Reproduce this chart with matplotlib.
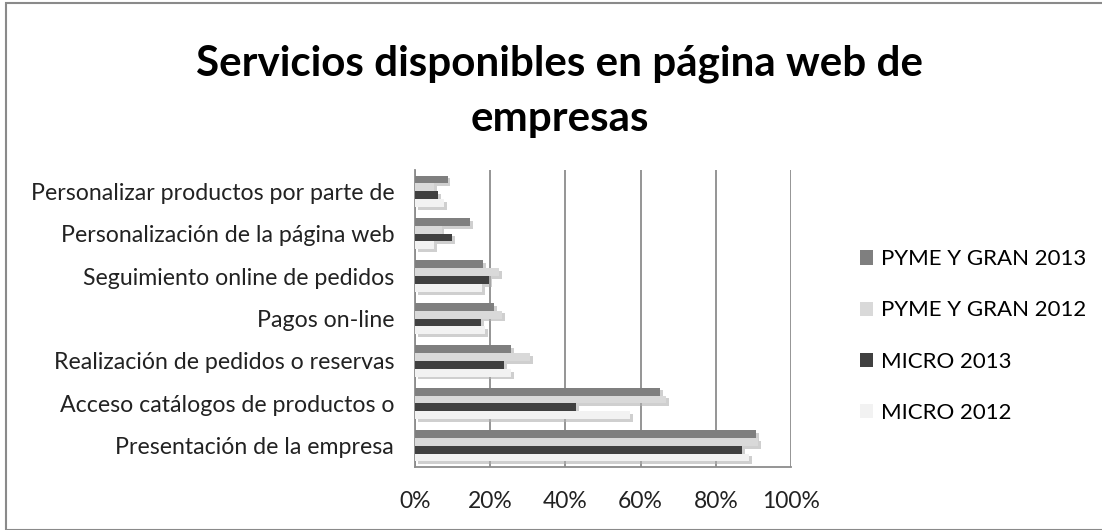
import matplotlib
matplotlib.use("Agg")
import matplotlib.pyplot as plt
import matplotlib.patheffects as pe
from matplotlib.patches import Rectangle
import numpy as np

categories = [
    "Personalizar productos por parte de",
    "Personalización de la página web",
    "Seguimiento online de pedidos",
    "Pagos on-line",
    "Realización de pedidos o reservas",
    "Acceso catálogos de productos o",
    "Presentación de la empresa",
]
series_names = ["PYME Y GRAN 2013", "PYME Y GRAN 2012", "MICRO 2013", "MICRO 2012"]
pyme_2013 = [8.7, 14.6, 18.2, 21.1, 25.5, 65.2, 90.8]
pyme_2012 = [5.0, 7.1, 22.3, 23.1, 30.6, 66.7, 91.2]
micro_2013 = [6.2, 9.9, 19.7, 17.5, 23.6, 42.8, 86.9]
micro_2012 = [7.8, 5.1, 17.9, 18.6, 25.5, 57.2, 88.9]
colors = ["#7f7f7f", "#d9d9d9", "#404040", "#f2f2f2"]
xticks = [0, 20, 40, 60, 80, 100]

plt.rcParams['font.family'] = ['Lato', 'DejaVu Sans']

fig = plt.figure(figsize=(11.02, 5.30), dpi=100)
fig.patches.append(Rectangle((6/1102, 0), 1.0, 1 - 3/530, transform=fig.transFigure,
                             fill=False, edgecolor="#8a8a8a", linewidth=1.5))
ax = fig.add_axes([415/1102, 1 - 467/530, (791 - 415)/1102, (467 - 170)/530])

n = len(categories)
ypos = np.arange(n)[::-1]  # first category at top
bar_h = 0.185
data = [pyme_2013, pyme_2012, micro_2013, micro_2012]
for k, (vals, col, name) in enumerate(zip(data, colors, series_names)):
    offs = (1.5 - k) * bar_h
    bars = ax.barh(ypos + offs, vals, height=bar_h, color=col, label=name, zorder=3)
    for b in bars:
        b.set_path_effects([pe.SimplePatchShadow(offset=(2, -2), shadow_rgbFace="#b0b0b0", alpha=0.6), pe.Normal()])

ax.set_xlim(0, 100)
ax.set_ylim(-0.5, n - 0.5)
ax.set_xticks(xticks)
ax.set_xticklabels([f"{t}%" for t in xticks], fontsize=16.5, color="#222222")
ax.set_yticks(ypos)
ax.set_yticklabels(categories, fontsize=16.7, color="#222222")
ax.tick_params(axis='both', length=0)
ax.tick_params(axis='y', pad=15)
ax.tick_params(axis='x', pad=17)
ax.xaxis.grid(True, color="#8c8c8c", linewidth=1.3, zorder=0)
ax.set_axisbelow(True)
for s in ["top", "right"]:
    ax.spines[s].set_visible(False)
ax.spines["left"].set_color("#8c8c8c")
ax.spines["left"].set_linewidth(1.3)
ax.spines["bottom"].set_color("#8c8c8c")
ax.spines["bottom"].set_linewidth(1.3)

fig.text(560/1102, 1 - 91/530, "Servicios disponibles en página web de\nempresas",
         ha="center", va="center", fontsize=30.3, fontweight="bold", linespacing=1.55)

handles, labels = ax.get_legend_handles_labels()
leg = fig.legend(handles, labels, loc="center left", bbox_to_anchor=(840/1102, 1 - 336/530),
                 frameon=False, fontsize=16, handlelength=0.6, handleheight=0.6,
                 labelspacing=1.4, handletextpad=0.35)
for h in leg.legend_handles:
    h.set_path_effects([])

fig.savefig("out.png", dpi=100)
